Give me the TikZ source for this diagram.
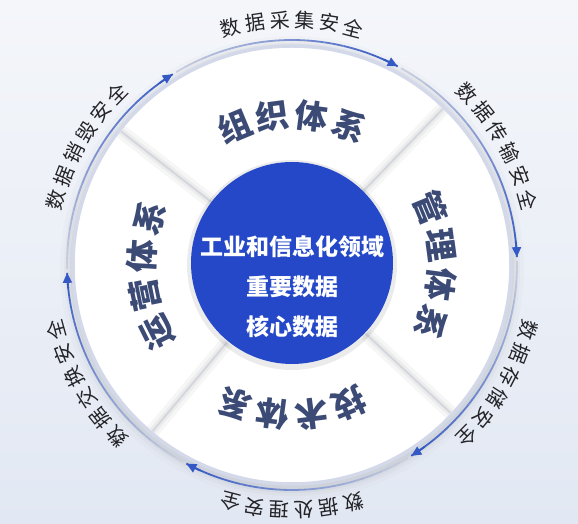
\documentclass[tikz,border=0pt]{standalone}
\usepackage{fontspec}
\newfontfamily\cjk{Noto Sans CJK SC}
\usetikzlibrary{arrows.meta}
\definecolor{bgtop}{RGB}{244,246,250}
\definecolor{bgbot}{RGB}{226,232,243}
\definecolor{cblue}{RGB}{36,72,200}
\definecolor{arcblue}{RGB}{52,88,196}
\definecolor{arcgray}{RGB}{200,206,222}
\definecolor{rim}{RGB}{212,217,234}
\definecolor{sect}{RGB}{60,74,118}
\definecolor{divline}{RGB}{212,215,222}
\definecolor{outtext}{RGB}{35,35,40}
\tikzset{
  sectlabel/.style={font=\cjk\bfseries\fontsize{33}{33}\selectfont, text=sect, inner sep=0pt},
  outlabel/.style={font=\cjk\fontsize{20}{20}\selectfont, text=outtext, inner sep=0pt},
  centertext/.style={font=\cjk\bfseries\fontsize{23}{40}\selectfont, text=white, align=center, inner sep=0pt},
  arcseg/.style={line width=1.8pt},
}
\begin{document}
\begin{tikzpicture}[x=1pt,y=1pt]
\useasboundingbox (0,0) rectangle (578,524);
\shade[top color=bgtop,bottom color=bgbot] (0,0) rectangle (578,524);
\begin{scope}[shift={(292,259)}]
  % soft shadow of disk
  \foreach \r/\o in {232/0.02,228/0.03,225/0.04,222/0.05}
    \fill[black!70,opacity=\o] (0,-3) circle[radius=\r pt];
  \fill[white] (0,0) circle[radius=220pt];
  \draw[rim, line width=3.5pt] (0,0) circle[radius=219pt];
  % dividers
  \foreach \a in {142,46,-43,-130} {
    \draw[black, opacity=0.035, line width=14pt] (\a:101pt) -- (\a:217pt);
    \draw[black, opacity=0.04, line width=7pt] (\a:101pt) -- (\a:217pt);
    \draw[divline, line width=2pt] (\a:101pt) -- (\a:217pt);
  }
  % center circle
  \fill[black, opacity=0.08] (0,0) circle[radius=105pt];
  \fill[cblue] (0,2) circle[radius=101pt];
  \node[centertext, name=ctext] at (0,-22) {工业和信息化领域\\重要数据\\核心数据};
  % sector labels
  \foreach \m/\lst [count=\k] in {90/{组,织,体,系}, 0/{管,理,体,系}, -90/{技,术,体,系}, 184/{运,营,体,系}} {
    \foreach \ch [count=\i] in \lst {
      \pgfmathsetmacro\ang{\m+22.5-(\i-1)*15}
      \node[sectlabel, rotate=\ang-90, name=s\k-\i] at (\ang:150pt) {\ch};
    }
  }
  % outer arcs
  \foreach \m [count=\k] in {150,90,30,-30,-90,-150} {
    \pgfmathsetmacro\s{\m+31}
    \pgfmathsetmacro\e{\m-28}
    \foreach \j in {0,...,23} {
      \pgfmathsetmacro\aa{\s-(\s-\e)*\j/24}
      \pgfmathsetmacro\bb{\s-(\s-\e)*(\j+1)/24}
      \pgfmathtruncatemacro\p{100*\j/23}
      \draw[arcseg, arcblue!\p!arcgray] (\aa:225pt) arc[start angle=\aa, end angle=\bb, radius=225pt];
    }
    \pgfmathsetmacro\ee{\e+4}
    \draw[arcseg, arcblue, -{Triangle[length=10pt,width=9pt]}] (\ee:225pt) arc[start angle=\ee, end angle=\e, radius=225pt];
  }
  % outer labels
  \foreach \m/\lst [count=\k] in {150/{数,据,销,毁,安,全}, 90/{数,据,采,集,安,全}, 30/{数,据,传,输,安,全}, -30/{数,据,存,储,安,全}, -90/{数,据,处,理,安,全}, -150/{数,据,交,换,安,全}} {
    \foreach \ch [count=\i] in \lst {
      \pgfmathsetmacro\ang{\m+14.5-(\i-1)*5.8}
      \node[outlabel, rotate=\ang-90, name=o\k-\i] at (\ang:245pt) {\ch};
    }
  }
\end{scope}
\end{tikzpicture}
\end{document}
